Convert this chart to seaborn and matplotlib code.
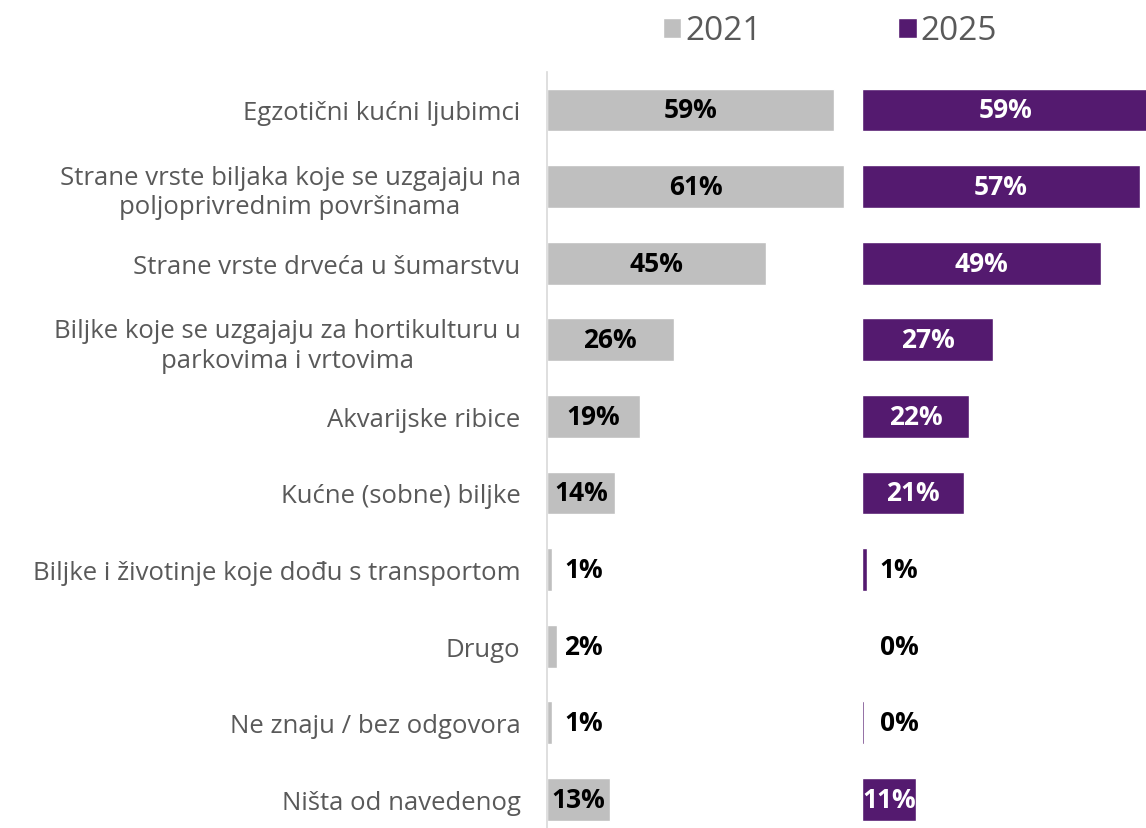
import pandas as pd
import seaborn as sns
import matplotlib.pyplot as plt
from matplotlib.patches import Patch

categories = [
    "Egzotični kućni ljubimci",
    "Strane vrste biljaka koje se uzgajaju na\npoljoprivrednim površinama",
    "Strane vrste drveća u šumarstvu",
    "Biljke koje se uzgajaju za hortikulturu u\nparkovima i vrtovima",
    "Akvarijske ribice",
    "Kućne (sobne) biljke",
    "Biljke i životinje koje dođu s transportom",
    "Drugo",
    "Ne znaju / bez odgovora",
    "Ništa od navedenog",
]
values_2021 = [59, 61, 45, 26, 19, 14, 1, 2, 1, 13]
values_2025 = [59, 57, 49, 27, 22, 21, 1, 0, 0.4, 11]
labels_2025 = [59, 57, 49, 27, 22, 21, 1, 0, 0, 11]

grey = "#BFBFBF"
purple = "#541A6F"
text_grey = "#595959"

sns.set_theme(style="white")
plt.rcParams["font.family"] = ["Open Sans", "DejaVu Sans"]

df = pd.DataFrame({"category": categories, "y2021": values_2021, "y2025": values_2025})

fig = plt.figure(figsize=(11.46, 8.29), dpi=100)
W, H = 1146, 829
scale = 4.87  # px per percent
top_px, bot_px = 73, 829
row0, row_step = 111, 76.6
ylim = ((bot_px - row0) / row_step, -(row0 - top_px) / row_step)

ax1 = fig.add_axes([547 / W, 0, 307 / W, (bot_px - top_px) / H])
ax2 = fig.add_axes([862 / W, 0, (W - 862) / W, (bot_px - top_px) / H])

sns.barplot(data=df, y="category", x="y2021", color=grey, width=0.56,
            orient="h", ax=ax1, saturation=1)
sns.barplot(data=df, y="category", x="y2025", color=purple, width=0.56,
            orient="h", ax=ax2, saturation=1)

ax1.set_xlim(0, 307 / scale)
ax2.set_xlim(0, (W - 862) / scale)
for ax in (ax1, ax2):
    ax.set_ylim(*ylim)
    ax.set_xlabel("")
    ax.set_ylabel("")
    ax.set_xticks([])
    for s in ax.spines.values():
        s.set_visible(False)

ax1.spines["left"].set_visible(True)
ax1.spines["left"].set_color("#D9D9D9")
ax1.spines["left"].set_linewidth(1.2)
ax1.tick_params(axis="y", length=0, pad=19, labelsize=18.5, labelcolor=text_grey)
for t in ax1.get_yticklabels():
    t.set_multialignment("center")
    t.set_linespacing(1.25)
ax2.set_yticks([])

small_x = 3.6
for i, v in enumerate(values_2021):
    if v >= 10:
        ax1.text(v / 2, i, f"{v}%", ha="center", va="center",
                 fontsize=19, fontweight="bold", color="black")
    else:
        ax1.text(small_x, i, f"{v}%", ha="left", va="center",
                 fontsize=19, fontweight="bold", color="black")

for i, (v, lab) in enumerate(zip(values_2025, labels_2025)):
    if v >= 10:
        ax2.text(v / 2, i, f"{lab}%", ha="center", va="center",
                 fontsize=19, fontweight="bold", color="white")
    else:
        ax2.text(small_x, i, f"{lab}%", ha="left", va="center",
                 fontsize=19, fontweight="bold", color="black")

handles = [Patch(facecolor=grey, label="2021"), Patch(facecolor=purple, label="2025")]
fig.legend(handles=handles, loc="center", bbox_to_anchor=(830 / W, 1 - 32 / H),
           ncol=2, frameon=False, fontsize=24, labelcolor=text_grey,
           handlelength=0.55, handleheight=0.55, handletextpad=0.12,
           columnspacing=4.1)

fig.savefig("out.png", dpi=100)
